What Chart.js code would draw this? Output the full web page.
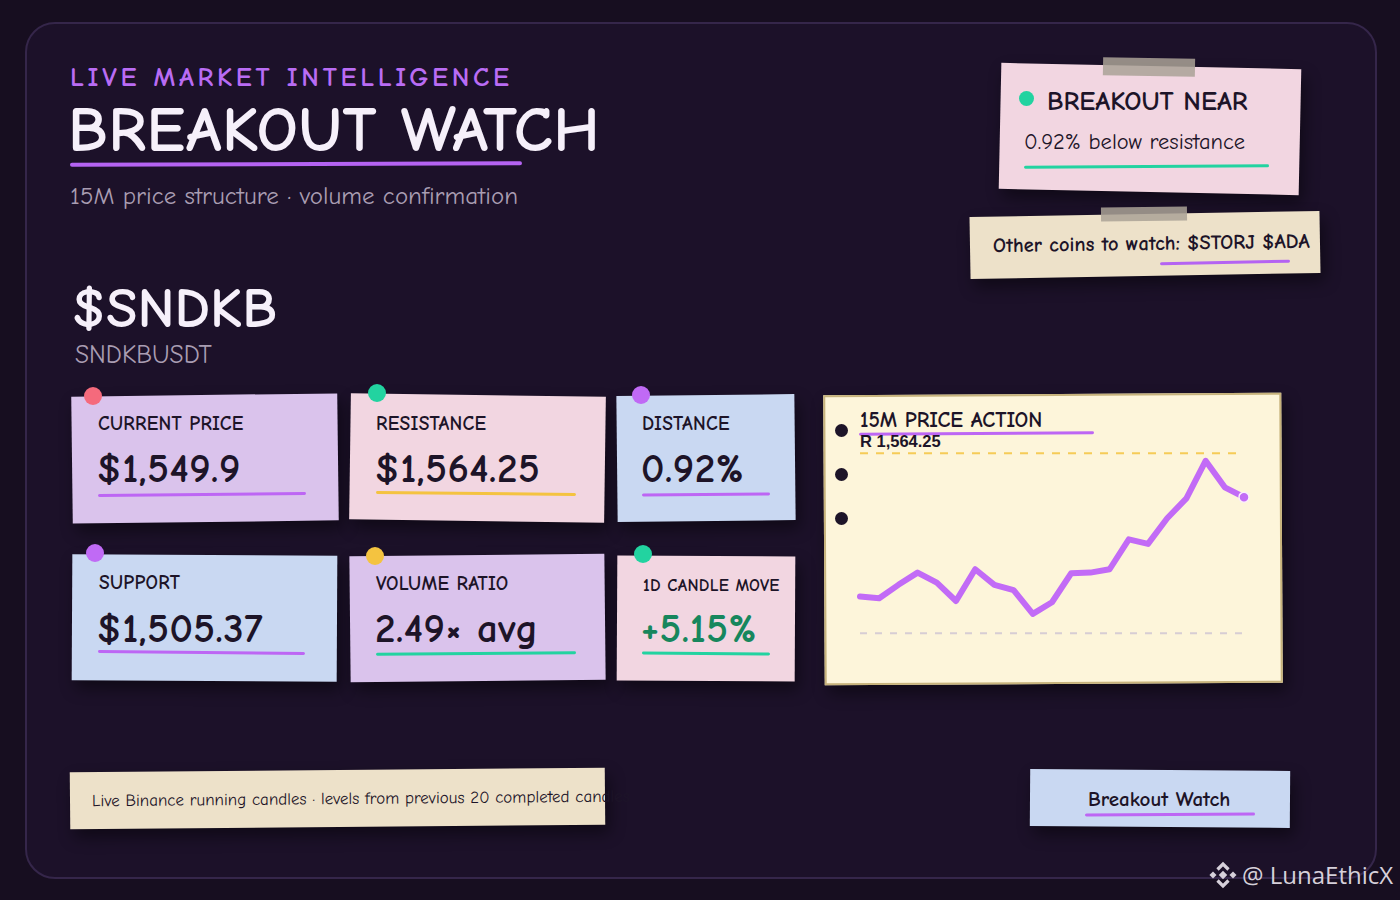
<!DOCTYPE html>
<html>
<head>
<meta charset="utf-8">
<script src="https://cdn.jsdelivr.net/npm/chart.js@4"></script>
<style>
  html, body { margin: 0; padding: 0; }
  body { width: 1400px; height: 900px; background: #170e20; position: relative; overflow: hidden;
         font-family: "Comic Sans MS", "Comic Neue", "Noto Sans", sans-serif; color: #1d1428; }
  .frame { position: absolute; left: 25px; top: 22px; width: 1348px; height: 853px; border: 2px solid #35264a;
           border-radius: 30px; background: #1c1129; }
  .abs { position: absolute; white-space: nowrap; }
  .note { position: absolute; box-shadow: 4px 8px 16px rgba(0,0,0,0.45); }
  .pin { position: absolute; width: 18px; height: 18px; border-radius: 50%; }
  .lbl { position: absolute; font-size: 19.5px; font-weight: 700; letter-spacing: 0.3px; white-space: nowrap; line-height: 1; }
  .val { position: absolute; font-size: 41px; font-weight: 700; white-space: nowrap; line-height: 1; letter-spacing: 0.5px; }
  .ul { position: absolute; height: 3px; border-radius: 3px; }
  .tape { position: absolute; background: rgba(170,162,150,0.85); }
</style>
</head>
<body>
<div class="frame"></div>

<div class="abs" style="left:70px;top:64px;font-size:27px;line-height:1;font-weight:700;letter-spacing:3.7px;color:#b96cf4;">LIVE MARKET INTELLIGENCE</div>
<div class="abs" style="left:68px;top:98px;font-size:65px;line-height:1;font-weight:700;color:#f6f0fa;letter-spacing:0.5px;">BREAKOUT WATCH</div>
<div class="ul" style="left:70px;top:162px;width:452px;height:4px;background:#b463f2;transform:rotate(-0.2deg);"></div>
<div class="abs" style="left:70px;top:183px;font-size:25px;line-height:1;color:#a99db2;">15M price structure · volume confirmation</div>
<div class="abs" style="left:72px;top:280px;font-size:57px;line-height:1;font-weight:700;color:#f6f0fa;">$SNDKB</div>
<div class="abs" style="left:75px;top:342px;font-size:25.5px;line-height:1;color:#a99db2;">SNDKBUSDT</div>

<!-- status notes -->
<div class="note" style="left:1000px;top:66px;width:300px;height:126px;background:#f2d6e1;transform:rotate(1.2deg);"></div>
<div class="tape" style="left:1103px;top:58px;width:92px;height:18px;transform:rotate(1deg);"></div>
<div class="pin" style="left:1019px;top:91px;width:15px;height:15px;background:#22d3a0;"></div>
<div class="abs" style="left:1047px;top:88px;font-size:27px;line-height:1;font-weight:700;">BREAKOUT NEAR</div>
<div class="abs" style="left:1024px;top:131px;font-size:22.5px;line-height:1;">0.92% below resistance</div>
<div class="ul" style="left:1024px;top:165px;width:245px;height:3px;background:#22d3a0;transform:rotate(-0.3deg);"></div>

<div class="note" style="left:970px;top:214px;width:350px;height:62px;background:#ede1c9;transform:rotate(-1deg);"></div>
<div class="tape" style="left:1101px;top:207px;width:86px;height:14px;transform:rotate(-0.6deg);"></div>
<div class="abs" style="left:993px;top:234px;font-size:20.5px;line-height:1;font-weight:700;transform:rotate(-0.8deg);">Other coins to watch: $STORJ $ADA</div>
<div class="ul" style="left:1160px;top:261px;width:130px;height:3px;background:#b463f2;transform:rotate(-1.2deg);"></div>

<!-- metric cards -->
<div class="note" style="left:72px;top:395px;width:266px;height:127px;background:#dac3ec;transform:rotate(-0.7deg);"></div>
<div class="pin" style="left:84px;top:387px;background:#f56a7c;"></div>
<div class="lbl" style="left:98px;top:414px;">CURRENT PRICE</div>
<div class="val" style="left:97px;top:448px;">$1,549.9</div>
<div class="ul" style="left:98px;top:493px;width:208px;background:#bd66f4;transform:rotate(-0.6deg);"></div>

<div class="note" style="left:350px;top:395px;width:255px;height:126px;background:#f2d6e1;transform:rotate(0.8deg);"></div>
<div class="pin" style="left:368px;top:384px;background:#22d3a0;"></div>
<div class="lbl" style="left:376px;top:414px;">RESISTANCE</div>
<div class="val" style="left:375px;top:448px;">$1,564.25</div>
<div class="ul" style="left:376px;top:492px;width:200px;background:#f4c340;transform:rotate(0.6deg);"></div>

<div class="note" style="left:617px;top:395px;width:178px;height:126px;background:#c9d8f2;transform:rotate(-0.6deg);"></div>
<div class="pin" style="left:632px;top:386px;background:#c06af5;"></div>
<div class="lbl" style="left:642px;top:414px;">DISTANCE</div>
<div class="val" style="left:641px;top:448px;">0.92%</div>
<div class="ul" style="left:642px;top:493px;width:128px;background:#bd66f4;transform:rotate(-0.5deg);"></div>

<div class="note" style="left:72px;top:555px;width:265px;height:126px;background:#c9d8f2;transform:rotate(0.3deg);"></div>
<div class="pin" style="left:86px;top:544px;background:#c06af5;"></div>
<div class="lbl" style="left:99px;top:573px;">SUPPORT</div>
<div class="val" style="left:97px;top:608px;">$1,505.37</div>
<div class="ul" style="left:98px;top:651px;width:207px;background:#bd66f4;transform:rotate(0.5deg);"></div>

<div class="note" style="left:350px;top:555px;width:255px;height:126px;background:#dac3ec;transform:rotate(-0.6deg);"></div>
<div class="pin" style="left:366px;top:547px;background:#f4c340;"></div>
<div class="lbl" style="left:376px;top:574px;">VOLUME RATIO</div>
<div class="val" style="left:375px;top:608px;">2.49× avg</div>
<div class="ul" style="left:376px;top:652px;width:200px;background:#22d3a0;transform:rotate(-0.4deg);"></div>

<div class="note" style="left:617px;top:556px;width:178px;height:125px;background:#f2d6e1;transform:rotate(0.3deg);"></div>
<div class="pin" style="left:634px;top:545px;background:#22d3a0;"></div>
<div class="lbl" style="left:643px;top:577px;font-size:17px;">1D CANDLE MOVE</div>
<div class="val" style="left:641px;top:608px;color:#17875d;">+5.15%</div>
<div class="ul" style="left:642px;top:652px;width:128px;background:#22d3a0;transform:rotate(0.5deg);"></div>

<!-- chart card -->
<div class="note" style="left:824px;top:394px;width:454px;height:286px;background:#fdf5da;border:2px solid #c7b37c;transform:rotate(-0.3deg);"></div>
<div class="pin" style="left:835px;top:424px;width:13px;height:13px;background:#1d1428;"></div>
<div class="pin" style="left:835px;top:468px;width:13px;height:13px;background:#1d1428;"></div>
<div class="pin" style="left:835px;top:512px;width:13px;height:13px;background:#1d1428;"></div>
<div class="abs" style="left:860px;top:410px;font-size:21.5px;line-height:1;font-weight:700;">15M PRICE ACTION</div>
<div class="ul" style="left:859px;top:432px;width:235px;background:#bd66f4;transform:rotate(-0.4deg);"></div>
<div class="abs" style="left:860px;top:433px;font-size:16.5px;line-height:1;font-weight:700;font-family:'Liberation Sans',Arial,sans-serif;">R 1,564.25</div>
<div class="abs" style="left:852px;top:432px;width:400px;height:236px;">
  <canvas id="priceChart"></canvas>
</div>

<!-- footer notes -->
<div class="note" style="left:70px;top:770px;width:535px;height:57px;background:#ede1c9;transform:rotate(-0.5deg);"></div>
<div class="abs" style="left:92px;top:790px;font-size:17px;line-height:1;transform:rotate(-0.5deg);">Live Binance running candles · levels from previous 20 completed candles</div>

<div class="note" style="left:1030px;top:770px;width:260px;height:57px;background:#c9d8f2;transform:rotate(0.4deg);"></div>
<div class="abs" style="left:1088px;top:789px;font-size:21px;line-height:1;font-weight:700;">Breakout Watch</div>
<div class="ul" style="left:1085px;top:813px;width:170px;background:#bd66f4;transform:rotate(-0.3deg);"></div>

<!-- watermark -->
<svg class="abs" style="left:1209px;top:861px;" width="28" height="28" viewBox="0 0 28 28">
  <g fill="none" stroke="#d6d0da" stroke-width="3.2" stroke-linejoin="miter">
    <polyline points="8.5,8.5 14,3 19.5,8.5"/>
    <polyline points="8.5,19.5 14,25 19.5,19.5"/>
  </g>
  <g fill="#d6d0da">
    <rect x="11" y="11" width="6" height="6" transform="rotate(45 14 14)"/>
    <rect x="1.5" y="11.5" width="5" height="5" transform="rotate(45 4 14)"/>
    <rect x="21.5" y="11.5" width="5" height="5" transform="rotate(45 24 14)"/>
  </g>
</svg>
<div class="abs" style="left:1242px;top:858px;font-size:24px;color:#d6d0da;font-family:'Open Sans',sans-serif;">@ LunaEthicX</div>

<script>
// 15m closes, oldest -> latest
const candleLabels = ['1', '2', '3', '4', '5', '6', '7', '8', '9', '10', '11',
                      '12', '13', '14', '15', '16', '17', '18', '19', '20', 'now'];
const priceSeries = [1517.4, 1516.8, 1521.2, 1525.2, 1521.9, 1515.9, 1526.3, 1521.2, 1519.5, 1511.7, 1515.5,
                     1525.0, 1525.2, 1526.3, 1536.1, 1534.6, 1543.0, 1549.5, 1561.8, 1553.1, 1549.9];
const resistanceLevel = 1564.25;
const supportLevel = 1505.37;

const lastIdx = priceSeries.length - 1;

new Chart(document.getElementById('priceChart').getContext('2d'), {
    type: 'line',
    data: {
        labels: candleLabels,
        datasets: [
            {
                label: 'Price',
                data: priceSeries,
                borderColor: '#c26bf6',
                borderWidth: 6,
                borderJoinStyle: 'round',
                borderCapStyle: 'round',
                tension: 0,
                pointRadius: (c) => c.dataIndex === lastIdx ? 5 : 0,
                pointBackgroundColor: '#c26bf6',
                pointBorderColor: '#fbeefc',
                pointBorderWidth: 1.5
            },
            {
                label: 'Resistance',
                data: candleLabels.map(() => resistanceLevel),
                borderColor: 'rgba(244, 195, 64, 0.85)',
                borderWidth: 2,
                borderDash: [8, 8],
                pointRadius: 0
            },
            {
                label: 'Support',
                data: candleLabels.map(() => supportLevel),
                borderColor: 'rgba(205, 195, 210, 0.8)',
                borderWidth: 2,
                borderDash: [7, 8],
                pointRadius: 0
            }
        ]
    },
    options: {
        responsive: true,
        maintainAspectRatio: false,
        animation: false,
        layout: { padding: 8 },
        plugins: {
            legend: { display: false },
            tooltip: { enabled: false }
        },
        scales: {
            x: { display: false, offset: false },
            y: { display: false, min: 1496.6, max: 1568.6 }
        }
    }
});
</script>
</body>
</html>
